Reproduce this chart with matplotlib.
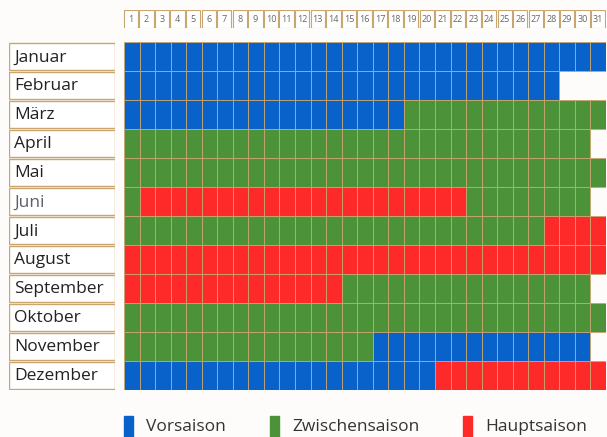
import matplotlib.pyplot as plt
import numpy as np
from matplotlib.patches import Rectangle

# Data: season segments per month (season code, number of days)
months = ["Januar", "Februar", "März", "April", "Mai", "Juni", "Juli",
          "August", "September", "Oktober", "November", "Dezember"]
days = list(range(1, 32))
season_names = ["Vorsaison", "Zwischensaison", "Hauptsaison"]
season_codes = {"V": 0, "Z": 1, "H": 2}
month_segments = [
    [("V", 31)],
    [("V", 28)],
    [("V", 18), ("Z", 13)],
    [("Z", 30)],
    [("Z", 31)],
    [("Z", 1), ("H", 21), ("Z", 8)],
    [("Z", 27), ("H", 4)],
    [("H", 31)],
    [("H", 14), ("Z", 16)],
    [("Z", 31)],
    [("Z", 16), ("V", 14)],
    [("V", 20), ("H", 11)],
]

season_colors = ["#0962c9", "#4c9239", "#fe2a2a"]
tan = "#c9a670"
bg = "#fdfcfa"

W, H = 607, 437
fig = plt.figure(figsize=(W / 100, H / 100), dpi=100)
fig.patch.set_facecolor(bg)

def px_axes(x0, y0, x1, y1):
    return fig.add_axes([x0 / W, 1 - y1 / H, (x1 - x0) / W, (y1 - y0) / H])

# main grid: one cell per day, only days that exist in the table
ax = px_axes(124, 42, 606, 390)
for m, segs in enumerate(month_segments):
    codes = []
    for code, n in segs:
        codes += [season_codes[code]] * n
    ax.barh([m] * len(codes), [1] * len(codes),
            left=np.arange(len(codes)) + 0.5, height=1,
            color=[season_colors[c] for c in codes],
            edgecolor=tan, linewidth=0.6)
ax.set_xlim(0.5, 31.5)
ax.set_ylim(11.5, -0.5)
ax.axis("off")

# month labels
lax = px_axes(9, 42, 115, 390)
lax.barh(range(len(months)), [1] * len(months), height=0.96, left=0,
         color="white", edgecolor=tan, linewidth=1)
for i, name in enumerate(months):
    lax.text(0.05, i + 0.03, name, va="center", ha="left", fontsize=12.5,
             family="Open Sans", color="#5a5f6a" if name == "Juni" else "#222222")
lax.set_xlim(0, 1)
lax.set_ylim(11.5, -0.5)
lax.axis("off")

# day header
hax = px_axes(123, 10, 606, 28)
hax.bar(days, [1] * len(days), width=0.92, color="white", edgecolor=tan, linewidth=0.8)
for d in days:
    hax.text(d, 0.5, str(d), ha="center", va="center", fontsize=6.5,
             family="Open Sans", color="#666666")
hax.set_xlim(0.5, 31.5)
hax.set_ylim(0, 1)
hax.axis("off")

# legend
gax = px_axes(0, 405, W, H)
gax.set_xlim(0, W)
gax.set_ylim(H, 405)
gax.axis("off")
for x, name, col in zip([124, 270, 463], season_names, season_colors):
    gax.add_patch(Rectangle((x, 416), 9, 21, color=col))
    gax.text(x + 22, 427, name, va="center", ha="left", fontsize=12.5,
             family="Open Sans", color="#333333")

fig.savefig("out.png", dpi=100, facecolor=bg)
